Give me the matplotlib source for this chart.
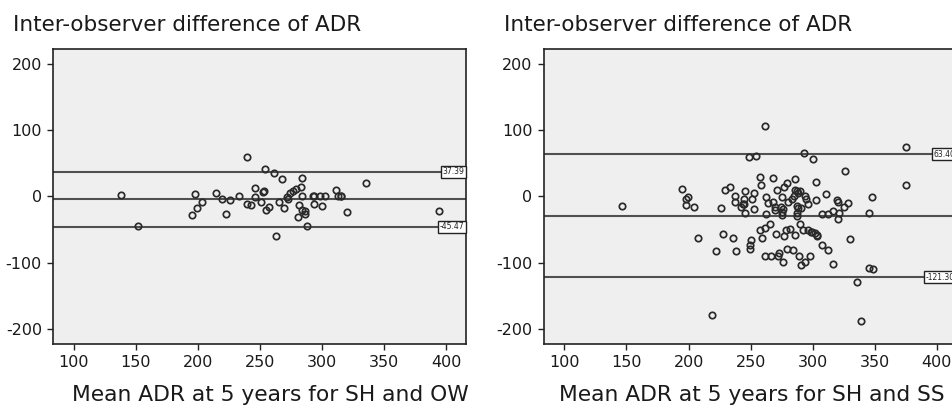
import matplotlib
matplotlib.use("Agg")
import matplotlib.pyplot as plt
import matplotlib.transforms as mtransforms

plt.rcParams['font.family'] = ['DejaVu Sans']
plt.rcParams['axes.unicode_minus'] = False

# left panel: SH vs OW
ow_mean = [137.8, 152.0, 195.0, 197.4, 199.5, 203.3, 214.3, 219.7, 223.0, 226.0,
           232.8, 239.5, 239.5, 242.7, 245.7, 245.7, 250.8, 252.4, 253.5, 253.7,
           255.0, 257.2, 261.3, 262.6, 265.3, 267.7, 269.3, 272.0, 272.8, 274.6,
           276.6, 279.0, 280.3, 281.6, 283.0, 284.0, 283.8, 283.8, 286.2, 286.5,
           287.6, 293.0, 293.5, 293.5, 298.3, 299.6, 302.3, 311.2, 313.0, 315.0,
           315.5, 320.0, 335.8, 394.0]
ow_diff = [2, -44, -28, 4, -17, -8, 5, -4, -26, -5,
           0, 59, -12, -13, 13, -0.5, -9, 7, 8, 42,
           -21, -16, 35, -59, -8, 27, -17, -1, -4, 5,
           8, 11, -31, -13, 15, 28, 0, -21, -26, -22,
           -45, 0, 0, -11, 0, -14, 0, 10, 0, 0,
           0, -24, 21, -22]
ow_limits = [37.39, -4.04, -45.47]
ow_labels = ["37.39", None, "-45.47"]

# right panel: SH vs SS
ss_mean = [146.3, 194.7, 199.3, 198.2, 198.0, 204.1, 207.6, 218.9, 222.4, 225.9,
           228.0, 229.1, 233.4, 235.6, 237.2, 237.5, 238.3, 242.3, 243.9, 245.3,
           245.8, 244.7, 249.0, 254.7, 249.6, 249.6, 250.4, 250.9, 252.8, 252.5,
           257.4, 258.7, 257.4, 259.3, 261.4, 262.5, 262.2, 261.7, 261.4, 265.5,
           263.6, 266.2, 268.4, 268.1, 270.0, 269.5, 270.8, 271.1, 272.2, 273.0,
           274.9, 274.1, 274.9, 274.9, 276.2, 276.8, 278.9, 276.8, 276.2, 278.4,
           279.2, 280.0, 282.1, 283.8, 283.2, 284.8, 285.4, 285.9, 285.4, 287.5,
           287.0, 287.0, 287.2, 287.8, 288.6, 289.4, 289.9, 290.2, 290.7, 292.1,
           292.6, 293.7, 294.5, 293.7, 296.4, 298.3, 299.6, 301.5, 303.1, 303.7,
           297.5, 296.4, 300.4, 302.3, 302.9, 307.2, 307.2, 310.9, 312.5, 312.5,
           316.3, 316.6, 319.8, 320.3, 321.1, 320.3, 325.7, 325.2, 328.1, 330.3,
           336.0, 339.2, 345.1, 347.5, 345.6, 348.3, 375.5, 375.2, 245.0, 288.0]
ss_diff = [-14.5, 11, -0.5, -4.5, -13, -15.5, -63, -178, -82, -17,
           -56, 10, 14, -63, 0, -8, -82, -16, -11, -25,
           8, -4.5, 59, 61, -79, -73, -65, -4, 6, -19,
           30, 18, -51, -62, 106, -0.5, -27, -48, -90, -41,
           -10.5, -89, 28, -8, -16.5, -21, -56, 9.5, -89, -85,
           -0.5, -16, -23, -27.5, -19.5, 14, 20.5, -60, -99, -51,
           -79, -8, -49, -80, -4, 1, -58, 26.5, 10, 9,
           -14, -25, -30, -17.5, -90, 8, -42, -103, -18, -51,
           65, 0, -4.5, -99, -51, -53.6, -53, -55.6, -58, -60,
           -90, -11, 57, -6, 21.5, -73, -26.5, 4, -81, -26,
           -21.5, -101, -6, -8.5, -24.5, -34.5, 38, -16, -10.5, -64,
           -128, -187, -24.5, -0.5, -108, -109, 75, 17.5, -11, 5]
ss_limits = [63.40, -28.95, -121.30]
ss_labels = ["63.40", None, "-121.30"]

panels = [
    (ow_mean, ow_diff, ow_limits, ow_labels, "Mean ADR at 5 years for SH and OW"),
    (ss_mean, ss_diff, ss_limits, ss_labels, "Mean ADR at 5 years for SH and SS"),
]

fig = plt.figure(figsize=(9.52, 4.05), dpi=100)
lefts = [53 / 952, 543.7 / 952]
title_x = [13 / 952, 504 / 952]
xlabel_x = [72 / 952, 559 / 952]

for i, (xs, ys, limits, labels, xlabel) in enumerate(panels):
    ax = fig.add_axes([lefts[i], 61 / 405, 413 / 952, 295 / 405])
    ax.set_facecolor('#efefef')

    trans = mtransforms.blended_transform_factory(ax.transAxes, ax.transData)
    for val, lab in zip(limits, labels):
        ax.axhline(val, color='#505050', lw=1.5, zorder=1)
        if lab is not None:
            ax.text(0.996, val, lab, transform=trans, ha='right', va='center',
                    fontsize=5.5, color='#222222', zorder=3,
                    bbox=dict(boxstyle='square,pad=0.2', fc='white', ec='#222222', lw=1.0))

    ax.plot(xs, ys, linestyle='none', marker='o', markersize=4.6,
            markerfacecolor='none', markeredgecolor='#2a2a2a', markeredgewidth=1.25, zorder=2)

    ax.set_xlim(83.3, 416)
    ax.set_ylim(-222, 222)
    ax.set_xticks([100, 150, 200, 250, 300, 350, 400])
    ax.set_yticks([-200, -100, 0, 100, 200])
    ax.tick_params(direction='out', length=4, width=1, labelsize=11.5, colors='#222222',
                   labelcolor='#1a1a1a', pad=4)
    for sp in ax.spines.values():
        sp.set_color('#222222')
        sp.set_linewidth(1.2)

    fig.text(title_x[i], 1 - 31 / 405, "Inter-observer difference of ADR",
             fontsize=15.5, va='baseline', ha='left', color='#1a1a1a')
    fig.text(xlabel_x[i], 1 - 401 / 405, xlabel,
             fontsize=15.7, va='baseline', ha='left', color='#1a1a1a')

fig.savefig("out.png", dpi=100)
